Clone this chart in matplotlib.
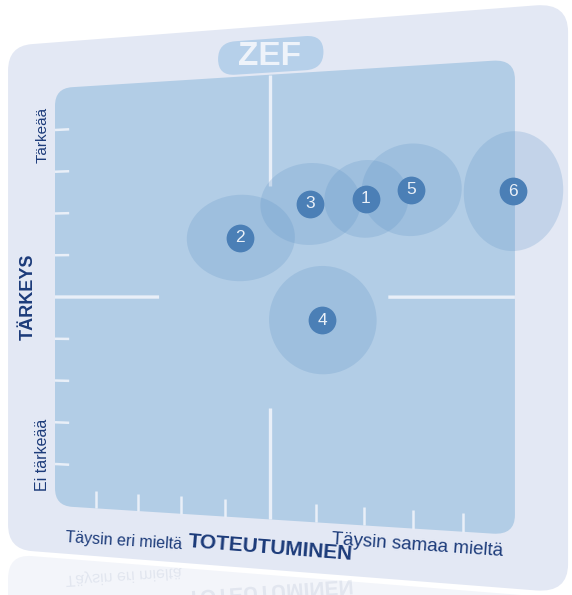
import matplotlib
matplotlib.use('Agg')
import matplotlib.pyplot as plt
import matplotlib.transforms as mtransforms
from matplotlib.patches import Ellipse, FancyBboxPatch, PathPatch
from matplotlib.textpath import TextPath
from matplotlib.font_manager import FontProperties
import numpy as np

# data (scale 0..10, centre line at 5)
labels = ['1', '2', '3', '4', '5', '6']
toteutuminen = [7.04, 4.34, 5.86, 6.12, 7.96, 9.96]
tarkeys = [7.15, 6.34, 7.07, 4.49, 7.32, 7.23]
spread_x = [0.87, 1.20, 1.07, 1.14, 1.01, 0.95]
spread_y = [0.85, 0.98, 0.91, 1.20, 1.00, 1.26]
tick_values = [1, 2, 3, 4, 6, 7, 8, 9]

navy = '#1c3b7a'
panel_col = '#b2cde6'
card_col = '#e3e8f4'
bubble_col = '#5f93c6'
badge_col = '#4b7fb6'
line_col = '#e9eff8'


# perspective tilt: chart units -> pixel position
class Tilt(mtransforms.Transform):
    input_dims = 2
    output_dims = 2
    is_separable = False
    has_inverse = False

    def transform_non_affine(self, xy):
        xy = np.asarray(xy, dtype=float).reshape(-1, 2)
        u, v = xy[:, 0], xy[:, 1]
        w = -0.01224 * u + 1
        return np.column_stack([(39.69 * u + 55) / w,
                                (-3.62 * u - 41.75 * v + 505.75) / w])


fig = plt.figure(figsize=(5.72, 5.95), dpi=100)
ax = fig.add_axes([0, 0, 1, 1])
ax.set_xlim(0, 572)
ax.set_ylim(595, 0)
ax.axis('off')

tilt = Tilt()
T = tilt + ax.transData

# faint reflection of the card under it
refl = FancyBboxPatch((-1.18, -4.0), 12.18, 2.75,
                      boxstyle='round,pad=0,rounding_size=0.6',
                      fc='#f3f5fa', ec='none', transform=T, zorder=0)
ax.add_patch(refl)

# card and panel
card = FancyBboxPatch((-1.18, -1.13), 12.18, 12.23,
                      boxstyle='round,pad=0,rounding_size=0.6',
                      fc=card_col, ec='none', transform=T, zorder=1)
ax.add_patch(card)
panel = FancyBboxPatch((0, 0), 10, 10,
                       boxstyle='round,pad=0,rounding_size=0.42',
                       fc=panel_col, ec='none', transform=T, zorder=2)
ax.add_patch(panel)

# ZEF badge
pill = FancyBboxPatch((3.85, 10.05), 2.3, 0.76,
                      boxstyle='round,pad=0,rounding_size=0.38',
                      fc='#b6d0ea', ec='none', transform=T, zorder=2)
ax.add_patch(pill)
ax.text(5.0, 10.41, 'ZEF', transform=T, ha='center', va='center',
        fontsize=24, fontweight='bold', family='Liberation Sans',
        color='#eef3fa', zorder=3)

# centre cross arms and ticks
lw_arm = 2.4
ax.plot([5, 5], [7.5, 10], transform=T, color=line_col, lw=lw_arm, zorder=3,
        solid_capstyle='butt')
ax.plot([5, 5], [0, 2.5], transform=T, color=line_col, lw=lw_arm, zorder=3,
        solid_capstyle='butt')
ax.plot([0, 2.5], [5, 5], transform=T, color=line_col, lw=lw_arm, zorder=3,
        solid_capstyle='butt')
ax.plot([7.5, 10], [5, 5], transform=T, color=line_col, lw=lw_arm, zorder=3,
        solid_capstyle='butt')
for t in tick_values:
    ax.plot([t, t], [0, 0.4], transform=T, color=line_col, lw=1.8, zorder=3,
            solid_capstyle='butt')
    ax.plot([0, 0.35], [t, t], transform=T, color=line_col, lw=1.8, zorder=3,
            solid_capstyle='butt')

# bubbles
for x, y, sx, sy in zip(toteutuminen, tarkeys, spread_x, spread_y):
    ax.add_patch(Ellipse((x, y), 2 * sx, 2 * sy, transform=T,
                         fc=bubble_col, ec='none', alpha=0.24, zorder=4))
ax.plot(toteutuminen, tarkeys, 'o', transform=T, ms=20, color=badge_col,
        mec='none', zorder=5)
for x, y, lab in zip(toteutuminen, tarkeys, labels):
    ax.text(x, y, lab, transform=T, ha='center', va='center', fontsize=12.5,
            family='Liberation Sans', color='#eaf0f8', zorder=6)

# axis texts
ax.text(-0.67, 5.0, 'TÄRKEYS', transform=T, rotation=90, ha='center',
        va='center', fontsize=13, fontweight='bold', family='Liberation Sans',
        color=navy)
ax.text(-0.3, 8.9, 'Tärkeää', transform=T, rotation=90, ha='center',
        va='center', fontsize=11, family='Liberation Sans', color=navy)
ax.text(-0.3, 1.2, 'Ei tärkeää', transform=T, rotation=90, ha='center',
        va='center', fontsize=11.5, family='Liberation Sans', color=navy)
ax.text(1.67, -0.73, 'Täysin eri mieltä', transform=T, rotation=-3.5,
        rotation_mode='anchor', ha='center', va='center', fontsize=11.5,
        family='Liberation Sans', color=navy)
ax.text(5.0, -0.64, 'TOTEUTUMINEN', transform=T, rotation=-4.5,
        rotation_mode='anchor', ha='center', va='center', fontsize=15,
        fontweight='bold', family='Liberation Sans', color=navy)
ax.text(8.08, -0.37, 'Täysin samaa mieltä', transform=T, rotation=-4,
        rotation_mode='anchor', ha='center', va='center', fontsize=13.5,
        family='Liberation Sans', color=navy)

# faint mirrored copy of the bottom labels
for txt, u, v, size, weight in [('Täysin eri mieltä', 1.67, -1.55, 16, 'normal'),
                                ('TOTEUTUMINEN', 5.0, -1.65, 21, 'bold')]:
    tp = TextPath((0, 0), txt, size=size,
                  prop=FontProperties(family='Liberation Sans', weight=weight))
    ext = tp.get_extents()
    px, py = tilt.transform([[u, v]])[0]
    tr = (mtransforms.Affine2D()
          .translate(-(ext.x0 + ext.x1) / 2, -(ext.y0 + ext.y1) / 2)
          .rotate_deg(-4).translate(px, py))
    ax.add_patch(PathPatch(tr.transform_path(tp), fc=navy, ec='none',
                           alpha=0.08, zorder=1))

fig.savefig('out.png', dpi=100)
